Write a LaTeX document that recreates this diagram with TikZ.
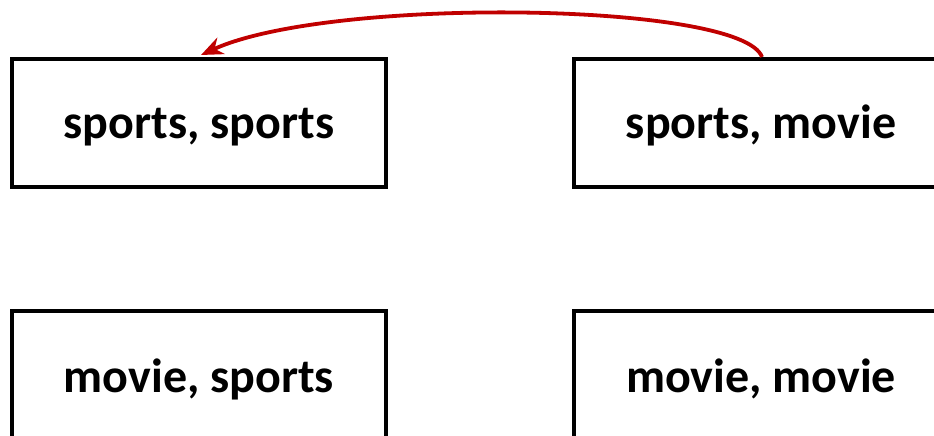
\documentclass[tikz,border=0pt]{standalone}
\usepackage{fontspec}
\setmainfont{Carlito}
\usetikzlibrary{arrows.meta}
\definecolor{arrowred}{HTML}{C00000}
\begin{document}
\begin{tikzpicture}[x=1pt,y=-1pt,
  pairbox/.style={draw=black, line width=4pt, minimum width=374pt, minimum height=128pt,
    inner sep=0pt, font=\fontsize{48}{56}\selectfont\bfseries},
  pairtext/.style={font=\fontsize{48}{56}\selectfont\bfseries, anchor=base},
  move/.style={draw=arrowred, line width=3.8pt, -{Stealth[length=22pt,width=18pt]}}]
\useasboundingbox (0,0) rectangle (934,436);
\clip (0,0) rectangle (934,436);
% four boxes of the game's outcomes
\node[pairbox] (ss) at (199,123) {};
\node[pairbox] (sm) at (761,123) {};
\node[pairbox] (ms) at (199,375) {};
\node[pairbox] (mm) at (761,375) {};
\node[pairtext] (ssl) at (199,138) {sports, sports};
\node[pairtext] (sml) at (761,138) {sports, movie};
\node[pairtext] (msl) at (199,392) {movie, sports};
\node[pairtext] (mml) at (761,392) {movie, movie};
% the deviation arrow
\coordinate (start) at ([xshift=1pt]sm.north);
\coordinate (finish) at ([xshift=2pt,yshift=2pt]ss.north);
\draw[move] (start) .. controls (742,2) and (330,-4) .. (finish);
\end{tikzpicture}
\end{document}
